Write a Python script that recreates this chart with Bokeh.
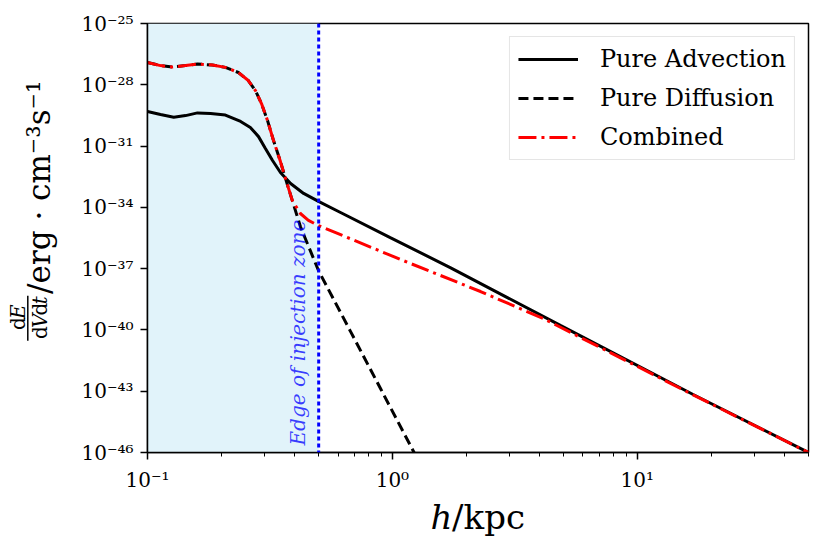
from math import pi
from bokeh.plotting import figure
from bokeh.layouts import row, column
from bokeh.models import (Range1d, FixedTicker, CustomJSTickFormatter, Label,
                          Span, BoxAnnotation)
from bokeh.embed import file_html
from bokeh.resources import INLINE

# ---------------- data ----------------
X_MIN, X_MAX = 0.1, 50.0
Y_MIN, Y_MAX = 1e-46, 1e-25
EDGE = 0.5  # edge of injection zone (kpc)

X_MAJOR = [0.1, 1, 10]
X_MINOR = [0.2, 0.3, 0.4, 0.5, 0.6, 0.7, 0.8, 0.9,
           2, 3, 4, 5, 6, 7, 8, 9, 20, 30, 40, 50]
Y_MAJOR = [1e-46, 1e-43, 1e-40, 1e-37, 1e-34, 1e-31, 1e-28, 1e-25]

h_adv = [0.100, 0.113, 0.128, 0.143, 0.160, 0.181, 0.208, 0.240, 0.263, 0.284,
         0.303, 0.324, 0.349, 0.384, 0.434, 0.499, 0.614, 0.98, 1.73, 4.85,
         16.9, 50.0]
e_adv = [4.9e-30, 3.5e-30, 2.6e-30, 3.1e-30, 4.2e-30, 3.9e-30, 3.3e-30, 1.6e-30,
         8.1e-31, 2.9e-31, 7.6e-32, 1.96e-32, 5.1e-33, 1.48e-33, 4.8e-34,
         1.95e-34, 5.6e-35, 3.3e-36, 1.1e-37, 1.66e-40, 6.9e-44, 1.0e-46]

h_dif = [0.100, 0.113, 0.126, 0.143, 0.160, 0.184, 0.208, 0.235, 0.258, 0.276,
         0.292, 0.309, 0.326, 0.349, 0.369, 0.390, 0.421, 0.499, 0.675, 0.894,
         1.22, 1.30]
e_dif = [1.23e-27, 8.7e-28, 7.4e-28, 8.7e-28, 1.04e-27, 9.3e-28, 7.1e-28, 4.0e-28,
         1.62e-28, 5.2e-29, 1.2e-29, 1.8e-30, 2.1e-31, 1.74e-32, 1.86e-33,
         2.2e-34, 1.15e-35, 8.1e-38, 8.3e-41, 1.35e-43, 1.12e-46, 2.3e-47]

h_com = [0.100, 0.113, 0.126, 0.143, 0.160, 0.184, 0.208, 0.235, 0.258, 0.276,
         0.292, 0.309, 0.326, 0.349, 0.369, 0.390, 0.421, 0.454, 0.499, 1.08,
         2.29, 4.13, 7.06, 16.9, 50.0]
e_com = [1.23e-27, 8.7e-28, 7.4e-28, 8.7e-28, 1.04e-27, 9.3e-28, 7.1e-28, 4.0e-28,
         1.62e-28, 5.2e-29, 1.2e-29, 1.8e-30, 2.1e-31, 1.74e-32, 1.86e-33,
         2.2e-34, 5.0e-35, 2.3e-35, 1.29e-35, 2.8e-37, 7.6e-39, 3.6e-40,
         1.38e-41, 6.6e-44, 1.0e-46]

LABELS = ["Pure Advection", "Pure Diffusion", "Combined"]

# ---------------- layout ----------------
W, H = 814, 538          # whole page content
YW = 70                  # strip holding the y-axis title
XH = 43                  # strip holding the x-axis title
MH = H - XH              # main figure height
FL, FT = 147, 23         # frame left / top (page px)
FRAME_W, FRAME_H = 661, 429
SERIF = "DejaVu Serif"

p = figure(width=W - YW, height=MH, x_axis_type="log", y_axis_type="log",
           x_range=Range1d(X_MIN, X_MAX), y_range=Range1d(Y_MIN, Y_MAX),
           output_backend="svg", toolbar_location=None,
           min_border_left=FL - YW, min_border_right=W - FL - FRAME_W,
           min_border_top=FT, min_border_bottom=MH - FT - FRAME_H)
p.xgrid.visible = False
p.ygrid.visible = False
p.outline_line_color = "black"
p.outline_line_width = 1.5
p.outline_line_alpha = 1.0
p.background_fill_color = "white"
p.border_fill_color = "white"

fmt = CustomJSTickFormatter(code="""
const s = {"-":"\\u207b","0":"\\u2070","1":"\\u00b9","2":"\\u00b2","3":"\\u00b3",
           "4":"\\u2074","5":"\\u2075","6":"\\u2076","7":"\\u2077","8":"\\u2078","9":"\\u2079"};
const e = Math.round(Math.log10(tick));
return "10" + String(e).split("").map(c => s[c]).join("");
""")

p.xaxis.ticker = FixedTicker(ticks=X_MAJOR, minor_ticks=X_MINOR)
p.yaxis.ticker = FixedTicker(ticks=Y_MAJOR, minor_ticks=[])
for ax in (p.xaxis[0], p.yaxis[0]):
    ax.formatter = fmt
    ax.axis_line_color = "black"
    ax.axis_line_width = 1.5
    ax.major_tick_line_color = "black"
    ax.major_tick_line_width = 1.5
    ax.major_tick_out = 7
    ax.major_tick_in = 0
    ax.minor_tick_line_color = "black"
    ax.minor_tick_line_width = 1
    ax.minor_tick_out = 4
    ax.minor_tick_in = 0
    ax.major_label_text_font = SERIF
    ax.major_label_text_font_size = "20px"
    ax.major_label_text_color = "black"
p.xaxis.major_label_standoff = 8
p.yaxis.major_label_standoff = 7

# shaded injection zone
p.add_layout(BoxAnnotation(left=X_MIN, right=EDGE, bottom=Y_MIN, top=Y_MAX,
                           fill_color="#e1f3fa", fill_alpha=1.0, line_color=None,
                           level="underlay"))

p.line(h_adv, e_adv, line_color="black", line_width=3, legend_label=LABELS[0])
p.line(h_dif, e_dif, line_color="black", line_width=3, line_dash="10 5",
       legend_label=LABELS[1])
p.line(h_com, e_com, line_color="red", line_width=3, line_dash="18 5 3 5",
       legend_label=LABELS[2])

p.add_layout(Span(location=EDGE, dimension="height", line_color="blue",
                  line_width=3, line_dash="4 3"))

# injection-zone note, rotated, reading upward, just left of the edge line
p.add_layout(Label(x=EDGE, y=Y_MIN, x_offset=-21, y_offset=7,
                   text="Edge of injection zone", angle=pi / 2,
                   text_font=SERIF, text_font_size="20px", text_font_style="italic",
                   text_align="left", text_baseline="middle",
                   text_color="blue", text_alpha=0.75))

# legend
lg = p.legend[0]
lg.location = "top_right"
lg.margin = 13
lg.padding = 8
lg.spacing = 11
lg.glyph_width = 60
lg.glyph_height = 28
lg.label_height = 28
lg.label_standoff = 22
lg.label_text_font = SERIF
lg.label_text_font_size = "24px"
lg.label_text_color = "black"
lg.border_line_color = "#cccccc"
lg.border_line_width = 1.5
lg.background_fill_alpha = 0.85


def strip(w, h):
    f = figure(width=w, height=h, x_range=Range1d(0, w), y_range=Range1d(0, h),
               x_axis_location=None, y_axis_location=None,
               output_backend="svg", toolbar_location=None, min_border=0)
    f.outline_line_color = None
    f.grid.visible = False
    f.background_fill_color = "white"
    f.border_fill_color = "white"
    return f


def txt(f, text, x, page_y, size, style="normal", angle=0.0, top=0):
    # (x, page_y): start of the text and the middle of its line box, with
    # page_y measured downward from the top of the page; top is the page y of
    # the strip's top edge
    f.add_layout(Label(x=x, y=f.height - (page_y - top), text=text, angle=angle,
                       text_font=SERIF, text_font_size=f"{size}px",
                       text_font_style=style, text_align="left",
                       text_baseline="middle", text_color="black"))


# ---------- y-axis title: dE/dVdt / erg . cm^-3 s^-1 (reads upward) ----------
ylab = strip(YW, MH)
WID = {"d": .640, "E": .735, "V": .722, "t": .402}


def runs_up(runs, start_y, mid_x, size):
    y = start_y
    for text, style in runs:
        txt(ylab, text, mid_x, y, size, style, pi / 2)
        y -= WID[text] * size


num = [("d", "normal"), ("E", "italic")]
den = [("d", "normal"), ("V", "italic"), ("d", "normal"), ("t", "italic")]
runs_up(num, 340 + sum(WID[r[0]] for r in num) * 10, 17, 20)
runs_up(den, 340 + sum(WID[r[0]] for r in den) * 10, 39, 20)
ylab.segment(x0=[27.3], y0=[MH - 314], x1=[27.3], y1=[MH - 366],
             line_color="black", line_width=1.5)
txt(ylab, "/erg \u00b7 cm\u207b\u00b3s\u207b\u00b9", 38, 312, 31, "normal", pi / 2)

# ---------- x-axis title: h/kpc ----------
xlab = strip(W, XH)
txt(xlab, "h", 430, 516, 34, "italic", top=MH)
txt(xlab, "/kpc", 430 + 0.635 * 34, 516, 34, top=MH)

layout = column(row(ylab, p), xlab)
open("out.html", "w").write(file_html(layout, INLINE))
